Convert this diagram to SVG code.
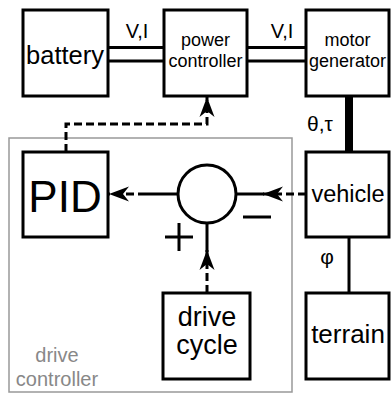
<svg xmlns="http://www.w3.org/2000/svg" width="391" height="394" viewBox="0 0 391 394">
<style>
.box{fill:#fff;stroke:#000;stroke-width:3}
.t{font-family:"Liberation Sans",Arial,sans-serif;fill:#000;text-anchor:middle}
.ln{stroke:#000;stroke-width:3;fill:none}
.dash{stroke:#000;stroke-width:3;fill:none;stroke-dasharray:8,4}
</style>
<defs>
<marker id="ah" markerUnits="userSpaceOnUse" markerWidth="24" markerHeight="18" refX="20" refY="8" orient="auto" viewBox="0 0 24 16">
<path d="M20,8 L0,0.5 L6,8 L0,15.5 Z" fill="#000"/>
</marker>
</defs>
<rect id="drive-controller" x="9" y="138" width="283" height="254" fill="none" stroke="#999" stroke-width="1.5"/>
<g id="connectors">
<line class="ln" x1="108" y1="47.5" x2="164" y2="47.5"/>
<line class="ln" x1="108" y1="61" x2="164" y2="61"/>
<line class="ln" x1="247" y1="47.5" x2="306" y2="47.5"/>
<line class="ln" x1="247" y1="61" x2="306" y2="61"/>
<line x1="349" y1="96" x2="349" y2="152" stroke="#000" stroke-width="8"/>
<line class="ln" x1="349" y1="237" x2="349" y2="293"/>
<path class="dash" d="M66,152 V124 H207 V97" marker-end="url(#ah)"/>
<line class="ln" x1="178" y1="194" x2="146" y2="194"/>
<path class="dash" d="M146,194 H109" marker-end="url(#ah)"/>
<line class="ln" x1="236" y1="194" x2="264" y2="194"/>
<path class="dash" d="M306,194 H263" marker-end="url(#ah)"/>
<line class="ln" x1="207" y1="223" x2="207" y2="252"/>
<path class="dash" d="M207,293 V250" marker-end="url(#ah)"/>
<line class="ln" x1="243" y1="217" x2="271" y2="217"/>
<line class="ln" x1="165" y1="237" x2="193" y2="237"/>
<line class="ln" x1="179" y1="223" x2="179" y2="251"/>
<text class="t" x="137" y="38" font-size="20">V,I</text>
<text class="t" x="282" y="38" font-size="20">V,I</text>
<text class="t" x="307" y="131" font-size="21" style="text-anchor:start">θ,τ</text>
<text class="t" x="327" y="264" font-size="21">φ</text>
</g>
<g id="battery">
<rect class="box" x="23" y="10" width="85" height="86"/>
<text class="t" x="65" y="64" font-size="25.5">battery</text>
</g>
<g id="power-controller">
<rect class="box" x="164" y="10" width="83" height="86"/>
<text class="t" x="205.5" y="46" font-size="18">power</text>
<text class="t" x="205.5" y="67" font-size="18">controller</text>
</g>
<g id="motor-generator">
<rect class="box" x="306" y="10" width="83" height="86"/>
<text class="t" x="347.5" y="46" font-size="18">motor</text>
<text class="t" x="347.5" y="67" font-size="18">generator</text>
</g>
<g id="pid">
<rect class="box" x="23" y="152" width="85" height="85"/>
<text class="t" x="65" y="212" font-size="44">PID</text>
</g>
<g id="sum">
<circle class="ln" cx="207" cy="194" r="29"/>
</g>
<g id="vehicle">
<rect class="box" x="306" y="152" width="83" height="85"/>
<text class="t" x="348" y="202" font-size="23.5">vehicle</text>
</g>
<g id="drive-cycle">
<rect class="box" x="163" y="293" width="87" height="86"/>
<text class="t" x="207" y="326" font-size="27">drive</text>
<text class="t" x="207" y="354" font-size="27">cycle</text>
</g>
<g id="terrain">
<rect class="box" x="306" y="293" width="83" height="86"/>
<text class="t" x="348" y="343" font-size="26">terrain</text>
</g>
<g id="drive-controller-label">
<text class="t" x="57" y="362" font-size="20" style="fill:#888">drive</text>
<text class="t" x="57" y="386" font-size="20" style="fill:#888">controller</text>
</g>
</svg>
